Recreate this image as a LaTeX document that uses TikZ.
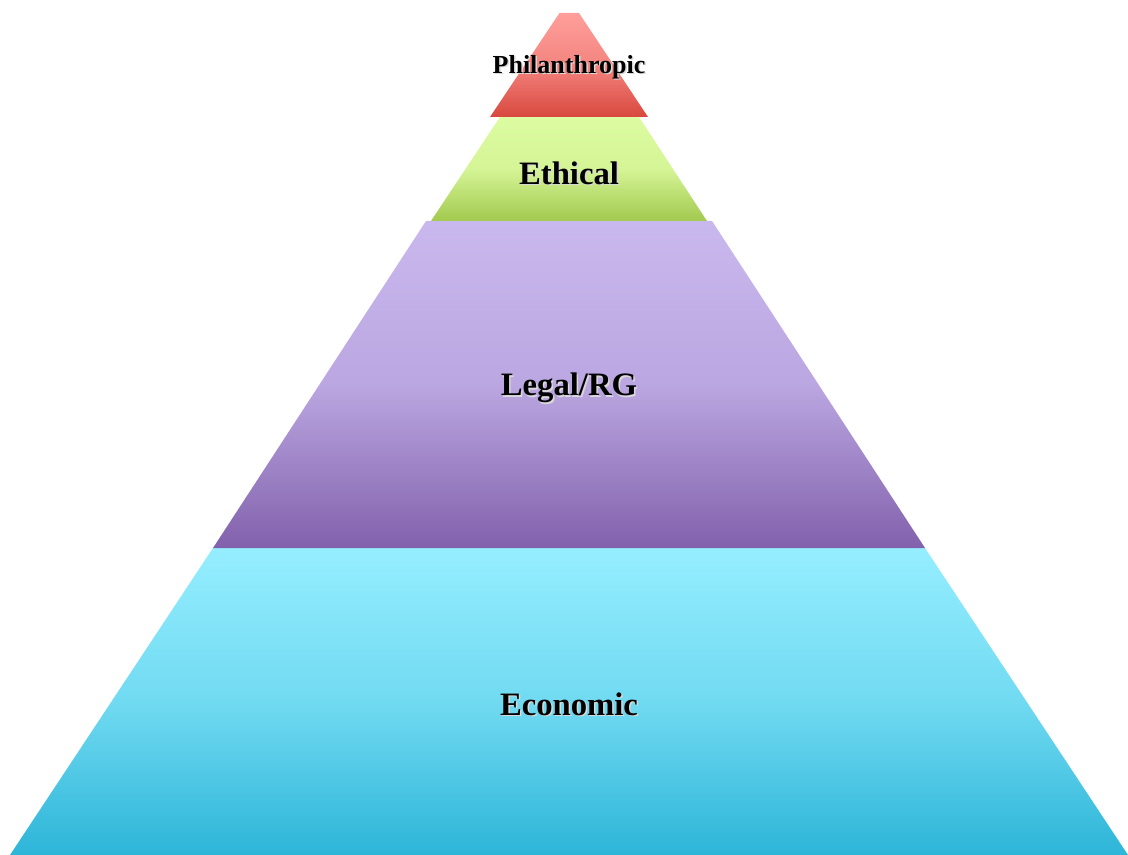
\documentclass[tikz,border=0pt]{standalone}
\usepackage{fontspec}
\setmainfont{Liberation Serif}
\begin{document}
\begin{tikzpicture}[x=0.75pt,y=-0.75pt,
  lbl/.style={font=\bfseries\fontsize{24.5}{28}\selectfont, text=black, inner sep=0pt},
  lblsmall/.style={font=\bfseries\fontsize{19.5}{22}\selectfont, text=black, inner sep=0pt},
  shd/.style={font=\bfseries\fontsize{24.5}{28}\selectfont, text=black!15, inner sep=0pt},
  shdsmall/.style={font=\bfseries\fontsize{19.5}{22}\selectfont, text=black!15, inner sep=0pt}]
\useasboundingbox (0,0) rectangle (1128,855);
\definecolor{redT}{HTML}{FF9F9B}\definecolor{redB}{HTML}{D8483E}
\definecolor{grnT}{HTML}{DDFCA2}\definecolor{grnB}{HTML}{A3C94F}
\definecolor{purT}{HTML}{C9B8EE}\definecolor{purB}{HTML}{8261AC}
\definecolor{cyaT}{HTML}{95EEFF}\definecolor{cyaB}{HTML}{2DB5D8}
% bands
\shade[top color=cyaT, bottom color=cyaB, middle color=cyaT!65!cyaB] (213,548) -- (925,548) -- (1128,855) -- (10,855) -- cycle;
\shade[top color=purT, bottom color=purB, middle color=purT!80!purB] (426,221) -- (712,221) -- (925,548) -- (213,548) -- cycle;
\shade[top color=grnT, bottom color=grnB, middle color=grnT!85!grnB] (500,117) -- (639,117) -- (707,221) -- (431,221) -- cycle;
\shade[top color=redT, bottom color=redB, middle color=redT!70!redB] (559.5,13) -- (579,13) -- (648,117) -- (490,117) -- cycle;
% labels
\node[shdsmall] at (570.5,68.5) {Philanthropic};
\node[lblsmall] (phil) at (569,67) {Philanthropic};
\node[shd] at (570.5,174.5) {Ethical};
\node[lbl] (eth) at (569,173) {Ethical};
\node[shd] at (570.5,389.5) {Legal/RG};
\node[lbl] (leg) at (569,388) {Legal/RG};
\node[shd] at (570.5,705.5) {Economic};
\node[lbl] (eco) at (569,704) {Economic};
\end{tikzpicture}
\end{document}
